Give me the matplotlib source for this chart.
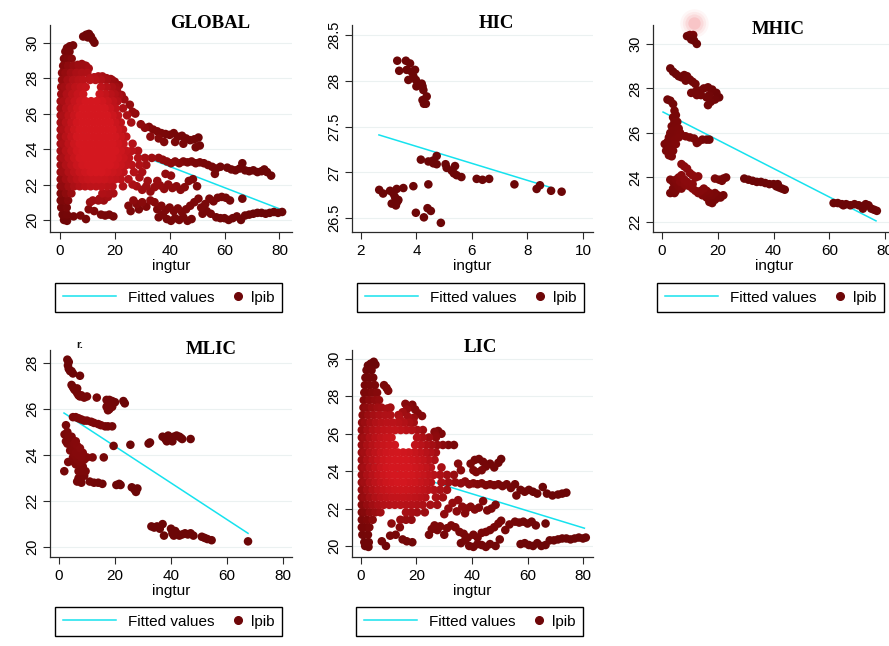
import numpy as np
import matplotlib
matplotlib.use("Agg")
import matplotlib.pyplot as plt
from matplotlib.colors import LinearSegmentedColormap
from matplotlib.legend_handler import HandlerLine2DCompound
from matplotlib.lines import Line2D
from matplotlib.ticker import FormatStrFormatter

W, H = 889, 646

# ---------------- data ----------------
# dense cores are written as rows: (lpib, [ingtur values])
global_core = [
    (29.5, [2.0, 3.5]),
    (29.1, [1.5, 2.8, 4.3]),
    (28.7, [1.2, 3.0, 5.0, 7.0, 9.0]),
    (28.3, [0.8, 2.0, 4.0, 6.0, 8.0, 10.0]),
    (27.9, [0.8, 2.8, 4.8, 6.8, 8.5, 11.0, 13.0, 15.0, 17.0, 19.0]),
    (27.5, [0.5, 1.6, 3.6, 5.6, 7.6, 9.4, 15.0, 17.0, 19.0, 20.5]),
    (27.1, [0.5, 2.5, 4.5, 6.5, 8.5, 14.5, 16.5, 18.5, 20.0]),
    (26.7, [0.3, 1.4, 3.4, 5.4, 7.4, 9.4, 11.4, 13.4, 15.4, 17.4, 19.4, 21.0]),
    (26.3, [0.3, 2.3, 4.3, 6.3, 8.3, 10.3, 12.3, 14.3, 16.3, 18.3, 20.3, 23.0]),
    (25.9, [0.3, 1.2, 3.2, 5.2, 7.2, 9.2, 11.2, 13.2, 15.2, 17.2, 19.2, 21.2, 24.5]),
    (25.5, [0.3, 2.2, 4.2, 6.2, 8.2, 10.2, 12.2, 14.2, 16.2, 18.2, 20.2, 22.2, 26.0]),
    (25.1, [0.3, 1.2, 3.2, 5.2, 7.2, 9.2, 11.2, 13.2, 15.2, 17.2, 19.2, 21.2, 23.0]),
    (24.7, [0.3, 2.2, 4.2, 6.2, 8.2, 10.2, 12.2, 14.2, 16.2, 18.2, 20.2, 22.2, 24.2]),
    (24.3, [0.3, 1.2, 3.2, 5.2, 7.2, 9.2, 11.2, 13.2, 15.2, 17.2, 19.2, 21.2, 23.2, 26.5]),
    (23.9, [0.3, 2.2, 4.2, 6.2, 8.2, 10.2, 12.2, 14.2, 16.2, 18.2, 20.2, 22.2, 24.2, 26.2, 28.5]),
    (23.5, [0.3, 1.2, 3.2, 5.2, 7.2, 9.2, 11.2, 13.2, 15.2, 17.2, 19.2, 21.2, 23.2, 25.2, 28.5, 31.0, 33.5]),
    (23.1, [0.3, 2.2, 4.2, 6.2, 8.2, 10.2, 12.2, 14.2, 16.2, 18.2, 20.2, 22.2, 24.2, 26.2, 29.0, 31.5]),
    (22.7, [0.3, 1.2, 3.2, 5.2, 7.2, 9.2, 11.2, 13.2, 15.2, 17.2, 19.2, 21.2, 23.2, 27.0, 30.0]),
    (22.3, [0.3, 2.2, 4.2, 6.2, 8.2, 10.2, 12.2, 14.2, 16.2, 18.2, 20.2, 22.2, 25.0]),
    (21.9, [0.3, 1.2, 3.2, 5.2, 7.2, 9.2, 11.2, 13.2, 15.2, 17.2, 19.2, 23.0]),
    (21.5, [0.3, 2.2, 4.2, 15.5, 17.5, 19.5]),
    (21.1, [0.3, 1.3, 3.0, 12.0, 14.0, 16.0]),
    (20.7, [0.5, 2.5]),
    (20.3, [1.0, 2.6]),
]
global_pts = [
    (8.5, 30.35), (9.6, 30.45), (10.6, 30.5), (11.3, 30.35), (12.0, 30.15), (12.6, 30.0), (10.2, 30.3),
    (2.6, 29.7), (3.6, 29.8), (4.8, 29.85),
    (6.5, 28.75), (8.0, 28.8), (9.5, 28.7), (10.5, 28.55),
    (11.0, 28.0), (12.5, 28.05), (14.0, 28.1), (15.5, 28.1), (17.0, 28.0), (18.5, 27.95), (20.0, 27.8),
    (21.5, 27.6), (20.8, 27.3), (21.5, 27.0),
    (22.5, 27.05), (23.5, 26.8), (25.5, 26.5), (26.5, 26.1), (27.5, 26.0),
    (29.5, 25.4), (31.0, 25.2), (32.5, 25.25), (34.0, 25.1), (35.5, 25.0), (37.0, 24.9), (38.5, 24.85),
    (40.0, 24.8), (41.5, 24.9), (43.0, 24.7), (44.5, 24.75), (46.0, 24.6), (47.5, 24.5), (49.0, 24.55),
    (50.5, 24.65), (51.0, 24.2), (49.5, 24.1), (45.0, 24.3), (42.0, 24.4), (38.0, 24.4), (36.0, 24.6), (33.0, 24.7),
    (36.0, 23.5), (37.5, 23.4), (39.0, 23.3), (40.5, 23.2), (42.0, 23.3), (43.5, 23.2), (45.0, 23.3),
    (46.5, 23.25), (48.0, 23.3), (49.5, 23.2), (51.0, 23.25), (52.5, 23.2), (54.0, 23.1), (55.5, 23.0),
    (57.0, 22.9), (58.5, 23.0), (61.0, 22.95), (62.5, 22.85), (64.0, 22.8), (65.5, 22.9), (66.5, 23.2),
    (67.5, 22.8), (69.0, 22.75), (70.5, 22.8), (72.0, 22.7), (73.5, 22.75), (74.5, 22.85), (75.5, 22.7),
    (77.0, 22.5), (56.5, 22.6),
    (35.5, 22.2), (38.5, 22.6), (40.5, 22.5), (30.0, 21.7), (31.5, 21.9), (33.0, 21.6), (34.5, 21.85),
    (36.5, 21.95), (38.0, 21.75), (39.5, 22.0), (41.0, 21.8), (42.5, 21.9), (44.0, 21.7), (45.5, 21.85),
    (47.0, 22.2), (48.5, 22.3), (50.0, 21.9), (29.0, 22.4), (32.0, 22.2), (26.5, 22.0), (28.0, 21.9),
    (1.5, 20.0), (2.6, 19.95), (5.0, 20.2), (7.5, 20.25), (9.5, 20.05), (10.5, 20.6), (12.5, 20.5),
    (15.0, 20.3), (16.5, 20.25), (18.0, 20.3), (19.5, 20.2), (11.0, 21.0), (14.5, 21.2), (17.5, 21.3),
    (25.0, 20.8), (25.8, 20.5), (26.8, 21.1), (28.0, 20.9), (28.8, 20.6), (30.0, 21.0), (31.5, 20.75),
    (33.0, 21.1), (34.5, 21.0), (35.5, 20.6), (37.0, 20.8), (38.5, 20.55), (40.0, 20.7), (41.5, 20.5),
    (43.0, 20.65), (44.5, 20.45), (46.0, 20.6), (47.5, 20.8), (49.0, 21.0), (50.5, 21.2), (51.5, 20.7),
    (53.0, 20.9), (54.5, 21.2), (56.0, 21.05), (57.5, 21.25), (59.0, 21.3), (60.5, 21.25), (62.0, 21.1),
    (66.5, 21.2),
    (36.0, 20.15), (37.5, 20.3), (39.0, 20.05), (40.5, 19.95), (42.0, 20.1), (43.5, 20.0), (45.0, 20.15),
    (46.5, 19.95), (48.0, 20.05), (52.0, 20.35), (53.5, 20.5), (55.0, 20.35), (57.0, 20.15), (58.5, 20.1),
    (60.0, 20.1), (61.5, 20.0), (63.0, 20.1), (64.5, 20.2), (66.0, 20.0), (67.5, 20.25), (69.0, 20.3),
    (70.5, 20.35), (72.0, 20.4), (73.5, 20.4), (75.0, 20.35), (76.5, 20.4), (78.0, 20.45), (79.5, 20.4),
    (81.0, 20.45),
]
global_fit_x = [0.1, 80.5]
global_fit_y = [25.4, 20.6]

hic_pts = [
    (3.31, 28.22), (3.38, 28.11), (3.62, 28.22), (3.77, 28.19), (3.65, 28.12), (3.83, 28.10),
    (3.95, 28.12), (3.71, 28.01), (3.89, 28.05), (3.98, 28.01), (4.00, 27.94), (4.19, 27.97),
    (4.22, 27.94), (4.25, 27.90), (4.37, 27.83), (4.22, 27.79), (4.27, 27.75), (4.34, 27.75),
    (2.66, 26.81), (2.80, 26.77), (3.05, 26.80), (3.17, 26.77), (3.29, 26.82), (3.23, 26.73),
    (3.35, 26.70), (3.11, 26.66), (3.26, 26.64), (3.31, 26.68), (3.53, 26.83), (3.89, 26.85),
    (4.43, 26.87), (3.98, 26.56), (4.27, 26.51), (4.40, 26.61), (4.52, 26.58), (4.88, 26.45),
    (4.16, 27.14), (4.43, 27.12), (4.61, 27.10), (4.73, 27.18), (4.73, 27.09), (4.60, 27.13),
    (5.05, 27.09), (5.09, 27.05), (5.39, 27.07), (5.27, 27.02), (5.35, 26.99), (5.45, 26.97),
    (5.62, 26.95), (6.17, 26.93), (6.38, 26.92), (6.62, 26.93), (7.53, 26.87), (8.33, 26.82),
    (8.45, 26.86), (8.85, 26.80), (9.23, 26.79),
]
hic_fit_x = [2.65, 8.9]
hic_fit_y = [27.41, 26.83]

mhic_pts = [
    (9.0, 30.35), (10.0, 30.4), (10.5, 30.2), (11.5, 30.15), (12.5, 30.0), (11.2, 30.4),
    (3.0, 28.9), (4.0, 28.75), (5.0, 28.65), (6.0, 28.55), (7.0, 28.5), (8.0, 28.6), (9.0, 28.55),
    (10.0, 28.4), (11.0, 28.3), (12.0, 28.2), (8.5, 28.35),
    (10.5, 27.8), (12.0, 27.85), (13.5, 27.9), (15.0, 28.0), (16.5, 28.05), (18.0, 27.95), (19.5, 27.8),
    (20.5, 27.6), (19.0, 27.5), (17.5, 27.4), (16.5, 27.25), (14.0, 27.7), (17.0, 27.7), (16.0, 27.6),
    (12.5, 27.7),
    (2.0, 27.5), (3.0, 27.45), (4.0, 27.3), (4.5, 27.0), (5.0, 26.8), (4.5, 26.5), (5.0, 26.3),
    (4.0, 26.1), (5.5, 26.0), (3.5, 25.8), (4.5, 25.7), (2.0, 25.6), (1.0, 25.5), (2.5, 25.3),
    (1.5, 25.2), (3.5, 25.4), (2.5, 25.0), (3.5, 24.95), (6.0, 26.2), (6.0, 25.8), (5.0, 25.5),
    (6.5, 26.0), (5.5, 26.5), (3.0, 26.0), (4.0, 25.2), (4.0, 26.7), (3.5, 26.3), (2.5, 25.8),
    (7.0, 25.9), (8.5, 25.85), (10.0, 25.8), (11.5, 25.75), (13.0, 25.6), (14.5, 25.7), (16.0, 25.7),
    (17.0, 25.7), (12.5, 25.55),
    (7.0, 24.6), (8.0, 24.5), (9.0, 24.4), (10.0, 24.2), (11.0, 24.1), (12.0, 24.0), (13.0, 24.05),
    (3.0, 23.9), (4.0, 23.8), (5.0, 23.9), (6.0, 24.0), (7.0, 24.1), (8.0, 23.9), (9.0, 23.8),
    (10.0, 23.6), (4.0, 23.5), (5.0, 23.4), (6.0, 23.6), (7.0, 23.5), (8.0, 23.7), (3.0, 23.3),
    (4.5, 23.3), (11.0, 23.5), (12.0, 23.4), (13.0, 23.3), (14.0, 23.4), (15.0, 23.5), (16.0, 23.4),
    (17.0, 23.3), (18.0, 23.2), (19.0, 23.3), (20.0, 23.2), (21.0, 23.1), (22.0, 23.2), (17.0, 22.9),
    (18.0, 22.85), (19.0, 23.0), (20.0, 23.1), (13.0, 23.35), (14.5, 23.2), (16.0, 23.1), (11.0, 23.7),
    (6.5, 23.8), (5.5, 23.7), (8.5, 23.65),
    (19.0, 23.95), (20.5, 23.9), (22.0, 23.95), (23.0, 24.0), (21.5, 23.85),
    (29.5, 23.95), (31.0, 23.9), (32.5, 23.85), (34.0, 23.8), (35.5, 23.8), (37.0, 23.75), (38.5, 23.7),
    (40.0, 23.7), (41.0, 23.6), (42.0, 23.55), (43.0, 23.5), (44.0, 23.45), (41.5, 23.7),
    (61.5, 22.85), (63.0, 22.85), (64.5, 22.8), (66.0, 22.8), (67.5, 22.75), (69.0, 22.8), (70.5, 22.75),
    (72.0, 22.7), (73.0, 22.8), (74.0, 22.75), (75.0, 22.6), (76.0, 22.55), (77.0, 22.5), (72.0, 22.6),
    (65.0, 22.75),
]
mhic_glow = (11.5, 30.95)
mhic_fit_x = [0.4, 76.7]
mhic_fit_y = [26.94, 22.05]

mlic_pts = [
    (3.0, 28.15), (3.5, 28.05), (3.2, 27.9), (3.5, 27.75), (4.0, 27.65), (5.0, 27.55), (4.5, 27.65),
    (7.5, 27.45),
    (4.5, 27.05), (5.0, 26.95), (5.5, 26.85), (6.0, 26.8), (6.5, 26.7), (7.0, 26.6), (7.5, 26.55),
    (8.0, 26.6), (9.0, 26.5), (10.0, 26.55), (13.5, 26.5), (6.5, 26.9),
    (17.0, 26.4), (17.5, 26.2), (18.0, 26.0), (18.5, 26.2), (17.0, 26.1), (18.0, 26.4), (19.0, 26.35),
    (20.0, 26.3), (23.0, 26.35), (23.5, 26.25), (17.5, 25.95), (19.0, 26.1),
    (5.0, 25.65), (6.0, 25.65), (7.0, 25.6), (8.0, 25.55), (9.0, 25.5), (10.0, 25.5), (11.5, 25.45),
    (12.5, 25.4), (14.0, 25.35), (15.0, 25.3), (16.5, 25.25), (17.5, 25.25), (19.0, 25.25),
    (2.5, 25.3), (3.0, 25.0), (2.0, 24.9), (3.5, 24.8), (4.0, 24.6), (3.0, 24.5), (4.5, 24.4),
    (5.0, 24.2), (4.0, 24.2), (5.5, 24.0), (6.0, 24.1), (5.0, 23.9), (6.5, 23.8), (7.0, 24.0),
    (7.5, 23.7), (6.0, 23.6), (8.0, 23.9), (8.5, 23.5), (9.0, 23.8), (10.0, 23.9), (9.5, 23.3),
    (8.0, 23.3), (5.5, 23.7), (4.5, 24.8), (6.0, 24.6), (2.5, 24.6), (3.3, 23.7), (1.9, 23.3),
    (9.0, 23.1), (7.0, 23.0), (12.0, 23.9), (16.0, 23.9), (7.5, 24.3), (6.5, 24.4), (5.5, 24.5),
    (7.0, 23.3), (8.5, 24.1),
    (6.5, 22.85), (7.5, 22.9), (8.0, 22.8), (11.0, 22.85), (12.5, 22.8), (14.0, 22.8), (15.5, 22.75),
    (20.5, 22.7), (21.5, 22.75), (22.0, 22.7),
    (26.0, 22.6), (27.0, 22.5), (28.0, 22.55), (27.5, 22.4),
    (19.5, 24.4), (25.5, 24.45), (32.0, 24.5), (32.5, 24.55),
    (37.0, 24.8), (38.0, 24.7), (39.0, 24.85), (40.0, 24.75), (41.0, 24.8), (42.0, 24.85), (43.0, 24.8),
    (44.0, 24.7), (38.5, 24.6), (40.5, 24.6), (43.5, 24.75), (47.0, 24.7),
    (33.0, 20.9), (34.0, 20.85), (35.0, 20.9), (37.0, 21.0), (36.0, 20.8), (37.5, 20.5), (40.0, 20.8),
    (40.5, 20.6), (41.0, 20.5), (42.0, 20.6), (43.0, 20.5), (44.0, 20.55), (45.0, 20.6), (46.0, 20.55),
    (47.0, 20.6), (48.0, 20.5), (51.0, 20.45), (52.0, 20.4), (53.0, 20.35), (54.5, 20.3), (67.5, 20.25),
    (41.5, 20.7),
]
mlic_fit_x = [1.8, 67.5]
mlic_fit_y = [25.83, 20.6]

lic_core = [
    (29.4, [2.0, 3.8]),
    (29.0, [1.6, 2.6, 4.4]),
    (28.6, [1.4, 3.2, 5.0]),
    (28.2, [1.2, 2.2, 4.0, 5.8]),
    (27.8, [1.0, 3.0, 5.0, 6.5]),
    (27.4, [0.9, 1.9, 3.9, 5.9, 7.4]),
    (27.0, [0.6, 2.6, 4.6, 6.6, 8.6, 10.6]),
    (26.6, [0.4, 1.4, 3.4, 5.4, 7.4, 9.4, 11.4, 13.4, 15.4, 17.4, 19.0]),
    (26.2, [0.3, 2.3, 4.3, 6.3, 8.3, 10.3, 12.3, 14.3, 16.3, 18.3, 20.3, 22.3]),
    (25.8, [0.3, 1.2, 3.2, 5.2, 7.2, 9.2, 11.0, 20.2, 22.2, 24.5, 27.0]),
    (25.4, [0.3, 2.2, 4.2, 6.2, 8.2, 10.2, 12.2, 19.5, 21.5, 23.5, 25.5, 27.5, 29.5, 31.5, 33.5]),
    (25.0, [0.3, 1.2, 3.2, 5.2, 7.2, 9.2, 11.2, 13.2, 15.2, 17.2, 19.2, 21.2, 23.2, 25.0, 27.0]),
    (24.6, [0.3, 2.2, 4.2, 6.2, 8.2, 10.2, 12.2, 14.2, 16.2, 18.2, 20.2, 22.2, 24.2, 26.5]),
    (24.2, [0.3, 1.2, 3.2, 5.2, 7.2, 9.2, 11.2, 13.2, 15.2, 17.2, 19.2, 21.2, 23.2, 25.2, 29.0]),
    (23.8, [0.3, 2.2, 4.2, 6.2, 8.2, 10.2, 12.2, 14.2, 16.2, 18.2, 20.2, 22.2, 24.2, 26.2, 28.5, 31.0, 33.5]),
    (23.4, [0.3, 1.2, 3.2, 5.2, 7.2, 9.2, 11.2, 13.2, 15.2, 17.2, 19.2, 21.2, 23.2, 25.2, 29.0, 31.5, 34.0]),
    (23.0, [0.3, 2.2, 4.2, 6.2, 8.2, 10.2, 12.2, 14.2, 16.2, 18.2, 20.2, 22.2, 24.2, 26.2, 28.5, 31.0]),
    (22.6, [0.3, 1.2, 3.2, 5.2, 7.2, 9.2, 11.2, 13.2, 15.2, 17.2, 19.2, 21.2, 23.2, 27.0, 29.5]),
    (22.2, [0.3, 2.2, 4.2, 6.2, 8.2, 10.2, 12.2, 14.2, 16.2, 18.2, 20.2, 22.2, 25.0, 27.5]),
    (21.8, [0.3, 1.2, 3.2, 5.2, 7.0, 16.2, 18.2, 20.2, 23.0]),
    (21.4, [0.3, 2.2, 4.2, 14.2, 16.2, 18.2]),
    (21.0, [0.3, 1.3, 3.0]),
    (20.6, [0.5, 2.5]),
    (20.2, [1.2, 2.8]),
]
lic_pts = [
    (2.5, 29.65), (3.5, 29.75), (4.6, 29.85), (5.2, 29.7),
    (8.3, 28.6), (9.2, 28.45), (9.8, 28.3), (9.5, 27.35), (10.6, 27.4),
    (13.5, 27.0), (15.0, 27.15), (16.5, 27.3), (17.5, 27.45), (18.5, 27.55), (16.0, 27.6), (19.5, 27.3),
    (20.5, 27.1), (22.0, 26.95), (14.0, 26.8), (17.0, 26.9), (19.0, 26.85),
    (26.5, 26.1), (27.8, 26.15), (29.0, 26.0), (27.0, 25.9),
    (39.5, 24.4), (41.0, 24.6), (42.5, 24.65), (44.0, 24.5), (45.0, 24.25), (46.5, 24.4), (48.0, 24.2),
    (49.5, 24.45), (50.5, 24.65), (43.5, 24.05), (41.5, 23.95), (40.5, 24.05), (35.0, 24.4), (36.0, 24.05),
    (36.0, 23.35), (37.5, 23.45), (39.0, 23.3), (40.5, 23.35), (42.0, 23.3), (43.5, 23.35), (45.0, 23.25),
    (46.5, 23.3), (48.0, 23.25), (49.5, 23.3), (51.0, 23.2), (52.5, 23.3), (54.0, 23.1), (55.5, 23.3),
    (56.0, 22.7), (57.5, 23.0), (59.0, 22.9), (60.5, 23.0), (62.0, 22.9), (63.5, 22.8), (65.5, 23.15),
    (67.0, 22.8), (69.0, 22.7), (71.0, 22.75), (72.5, 22.8), (74.0, 22.85),
    (33.0, 22.3), (35.0, 22.45), (36.5, 22.1), (38.0, 22.0), (39.5, 22.1), (41.0, 21.95), (42.5, 22.05),
    (44.0, 22.4), (45.5, 21.9), (47.0, 22.0), (48.5, 22.2), (34.5, 21.85), (37.5, 21.75), (30.0, 21.7),
    (31.5, 22.0),
    (1.5, 20.0), (2.7, 19.95), (7.5, 20.25), (9.0, 20.0), (10.5, 20.55), (12.5, 20.6), (15.0, 20.35),
    (16.5, 20.25), (18.5, 20.2), (11.0, 21.2), (14.0, 21.0),
    (24.5, 20.6), (25.5, 20.9), (26.5, 21.1), (27.5, 20.85), (28.5, 21.05), (30.0, 20.6), (31.0, 20.95),
    (32.5, 21.1), (34.0, 21.0), (35.5, 20.75), (37.0, 20.65), (38.5, 20.45), (40.5, 20.6), (42.0, 20.45),
    (43.5, 20.7), (45.0, 20.75), (46.5, 20.85), (48.0, 21.0), (49.5, 21.2), (50.5, 21.35), (52.0, 20.85),
    (53.5, 21.15), (55.5, 21.3), (57.0, 21.25), (58.5, 21.3), (60.0, 21.2), (61.5, 21.3), (63.0, 21.1),
    (66.5, 21.2),
    (36.0, 20.15), (37.5, 20.3), (39.0, 20.0), (40.5, 19.95), (42.0, 20.1), (43.5, 20.05), (45.0, 19.95),
    (46.5, 20.1), (48.5, 20.0), (50.0, 20.35), (57.5, 20.1), (59.0, 20.15), (60.5, 20.05), (62.0, 20.0),
    (63.5, 20.15), (65.0, 20.0), (66.5, 20.05), (68.0, 20.3), (69.5, 20.3), (71.0, 20.35), (72.5, 20.4),
    (74.0, 20.4), (75.5, 20.35), (77.0, 20.4), (78.5, 20.45), (80.0, 20.4), (81.0, 20.45),
]
lic_fit_x = [0.1, 80.5]
lic_fit_y = [24.6, 20.95]

# ---------------- styling ----------------
plt.rcParams['font.family'] = ['Liberation Sans', 'DejaVu Sans']
MAROON = '#6e0608'
CYAN = '#16e2ee'
cmap = LinearSegmentedColormap.from_list('stata', ['#6c0607', '#7e0809', '#ad1016', '#d4171f'])


def flatten(core, pts):
    xs, ys = [], []
    for y, row in core:
        xs += row
        ys += [y] * len(row)
    for x, y in pts:
        xs.append(x)
        ys.append(y)
    return np.array(xs), np.array(ys)


class MarkerAtEnd(HandlerLine2DCompound):
    # legend dot sits at the right end of the handle, close to its label
    def get_xdata(self, legend, xdescent, ydescent, width, height, fontsize):
        xd, _ = super().get_xdata(legend, xdescent, ydescent, width, height, fontsize)
        return xd, np.array([-xdescent + width - 0.05 * fontsize])


fig = plt.figure(figsize=(W / 100, H / 100), dpi=100)


def panel(box, xlim, ylim, xticks, yticks, xs, ys, fx, fy, title, title_xy, legend_xy):
    l, t, r, b = box
    ax = fig.add_axes([l / W, 1 - b / H, (r - l) / W, (b - t) / H])
    ax.set_xlim(*xlim)
    ax.set_ylim(*ylim)
    ax.set_xticks(xticks)
    ax.set_yticks(yticks)
    ax.yaxis.set_major_formatter(FormatStrFormatter('%g'))
    for s in ['top', 'right']:
        ax.spines[s].set_visible(False)
    for s in ['left', 'bottom']:
        ax.spines[s].set_color('#2a2a2a')
        ax.spines[s].set_linewidth(0.9)
    ax.tick_params(direction='out', length=5, width=0.8, color='#2a2a2a')
    ax.tick_params(axis='x', labelsize=11, pad=4)
    ax.tick_params(axis='y', labelsize=10.5, labelrotation=90, pad=2.5)
    for lb in ax.get_yticklabels():
        lb.set_va('center')
    ax.yaxis.grid(True, color='#ebf1f1', lw=0.8)
    ax.set_axisbelow(True)
    ax.set_xlabel('ingtur', fontsize=11, labelpad=0.5)

    fit, = ax.plot(fx, fy, color=CYAN, lw=1.1, zorder=2)

    # shade markers by local overlap so the dense core turns bright red
    pix = ax.transData.transform(np.column_stack([xs, ys]))
    d2 = ((pix[:, None, :] - pix[None, :, :]) ** 2).sum(-1)
    dens = np.exp(-d2 / (2 * 24.0 ** 2)).sum(1)
    tval = np.clip((dens - 18.0) / 56.0, 0, 1)
    order = np.argsort(tval)
    ax.scatter(xs[order], ys[order], s=38, c=cmap(tval[order]), linewidths=0, zorder=3)

    fig.text(title_xy[0] / W, 1 - title_xy[1] / H, title, ha='center', va='center',
             family='Liberation Serif', weight='bold', fontsize=13.5)

    dot = Line2D([], [], ls='none', marker='o', ms=5.5, color=MAROON)
    leg = ax.legend([fit, dot], ['Fitted values', 'lpib'], ncol=2, loc='upper left',
                    bbox_to_anchor=(legend_xy[0] / W, 1 - legend_xy[1] / H),
                    bbox_transform=fig.transFigure, borderaxespad=0, fancybox=False,
                    edgecolor='black', framealpha=1, fontsize=11, handlelength=3.5,
                    handletextpad=0.8, columnspacing=-1.95, borderpad=0.5,
                    handler_map={dot: MarkerAtEnd(numpoints=1)})
    leg.get_frame().set_linewidth(1.0)
    return ax


gx, gy = flatten(global_core, global_pts)
panel((50, 25, 292, 232), (-3.6, 84.6), (19.32, 31.0), [0, 20, 40, 60, 80], [20, 22, 24, 26, 28, 30],
      gx, gy, global_fit_x, global_fit_y, 'GLOBAL', (210, 23), (55, 283))

hx, hy = flatten([], hic_pts)
panel((352, 25, 593, 232), (1.68, 10.36), (26.35, 28.61), [2, 4, 6, 8, 10], [26.5, 27, 27.5, 28, 28.5],
      hx, hy, hic_fit_x, hic_fit_y, 'HIC', (496, 24), (357, 283))

mx, my = flatten([], mhic_pts)
ax3 = panel((653, 25, 895, 232), (-3.2, 83.5), (21.55, 30.85), [0, 20, 40, 60, 80], [22, 24, 26, 28, 30],
            mx, my, mhic_fit_x, mhic_fit_y, 'MHIC', (778, 30), (657, 283))
# soft red smudge above the top cluster in the source image
for sz, al in [(420, 0.035), (280, 0.05), (170, 0.07), (80, 0.1)]:
    ax3.scatter([mhic_glow[0]], [mhic_glow[1]], s=sz, color='#e8141c', alpha=al,
                linewidths=0, clip_on=False, zorder=4)

lx, ly = flatten([], mlic_pts)
panel((50, 350, 292, 557), (-3.2, 83.2), (19.57, 28.57), [0, 20, 40, 60, 80], [20, 22, 24, 26, 28],
      lx, ly, mlic_fit_x, mlic_fit_y, 'MLIC', (211, 349), (55, 607))
fig.text(80 / W, 1 - 345 / H, 'r.', ha='center', va='center', fontsize=8, weight='bold', color='#111111')

cx, cy = flatten(lic_core, lic_pts)
panel((352, 350, 593, 557), (-3.24, 83.6), (19.41, 30.48), [0, 20, 40, 60, 80], [20, 22, 24, 26, 28, 30],
      cx, cy, lic_fit_x, lic_fit_y, 'LIC', (480, 348), (356, 607))

fig.savefig('out.png', dpi=100, facecolor='white')
